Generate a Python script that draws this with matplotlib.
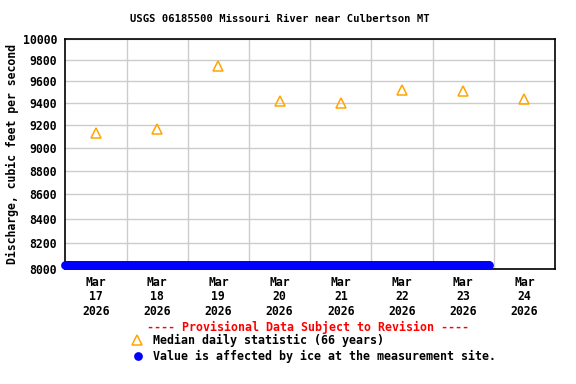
import matplotlib
matplotlib.use('Agg')
import matplotlib.pyplot as plt
import numpy as np
import pandas as pd

# Median daily statistic (66 years), plotted at noon of each day
median_days = ['2026-03-17', '2026-03-18', '2026-03-19', '2026-03-20',
               '2026-03-21', '2026-03-22', '2026-03-23', '2026-03-24']
median_cfs = [9130, 9160, 9740, 9420, 9400, 9520, 9510, 9440]

# Ice-affected instantaneous values (15-minute record), shown on the axis floor
ice_start = '2026-03-17 00:00'
ice_end = '2026-03-23 22:00'
ice_level = 8030

tick_days = median_days
y_ticks = [8000, 8200, 8400, 8600, 8800, 9000, 9200, 9400, 9600, 9800, 10000]

plt.rcParams['font.family'] = 'DejaVu Sans Mono'
plt.rcParams['font.weight'] = 'bold'

fig = plt.figure(figsize=(5.76, 3.84), dpi=100)
W, H = 576, 384
ax = fig.add_axes([65.3 / W, 1 - 268.7 / H, (555 - 65.3) / W, (268.7 - 39.3) / H])

med_x = pd.to_datetime(median_days) + pd.Timedelta(hours=12)
ice_x = pd.date_range(ice_start, ice_end, freq='15min')

ax.plot(ice_x, np.full(len(ice_x), ice_level), 'o', color='#0000ff',
        ms=6.3, mec='none', clip_on=False, zorder=3)
ax.plot(med_x, median_cfs, '^', mfc='none', mec='#ffa500', mew=1.1, ms=6.5,
        zorder=4)

ax.set_yscale('log')
ax.set_ylim(8000, 10000)
ax.set_yticks(y_ticks)
ax.set_yticklabels([str(v) for v in y_ticks])
ax.yaxis.set_minor_locator(matplotlib.ticker.NullLocator())

ax.set_xlim(pd.Timestamp('2026-03-17'), pd.Timestamp('2026-03-25'))
day_edges = pd.date_range('2026-03-18', '2026-03-24', freq='D')
ax.set_xticks(day_edges, minor=True)
ax.set_xticks(pd.to_datetime(tick_days) + pd.Timedelta(hours=12))
ax.set_xticklabels([pd.Timestamp(d).strftime('Mar\n%d\n%Y') for d in tick_days],
                   linespacing=1.15)

ax.grid(True, which='major', axis='y', color='#cccccc', lw=1)
ax.grid(True, which='minor', axis='x', color='#cccccc', lw=1)
ax.set_axisbelow(True)
ax.tick_params(which='both', length=0, labelsize=8.3)
ax.tick_params(axis='x', pad=5)
ax.tick_params(axis='y', pad=6)
for s in ax.spines.values():
    s.set_linewidth(1.2)

fig.text(280 / W, 1 - 19 / H, 'USGS 06185500 Missouri River near Culbertson MT',
         ha='center', va='center', fontsize=7.6)
fig.text(12 / W, 1 - 154 / H, 'Discharge, cubic feet per second',
         rotation=90, ha='center', va='center', fontsize=8.3)

# legend area
fig.text(308 / W, 1 - 327 / H, '---- Provisional Data Subject to Revision ----',
         ha='center', va='center', fontsize=8.4, color='#ff0000')
fig.add_artist(plt.Line2D([137 / W], [1 - 340 / H], marker='^', mfc='none',
                          mec='#ffa500', mew=1.1, ms=6.5))
fig.text(153 / W, 1 - 340 / H, 'Median daily statistic (66 years)',
         ha='left', va='center', fontsize=8.4)
fig.add_artist(plt.Line2D([138 / W], [1 - 356 / H], marker='o', mfc='#0000ff',
                          mec='none', ms=6.3))
fig.text(153 / W, 1 - 356 / H, 'Value is affected by ice at the measurement site.',
         ha='left', va='center', fontsize=8.4)

fig.savefig('out.png', dpi=100)
